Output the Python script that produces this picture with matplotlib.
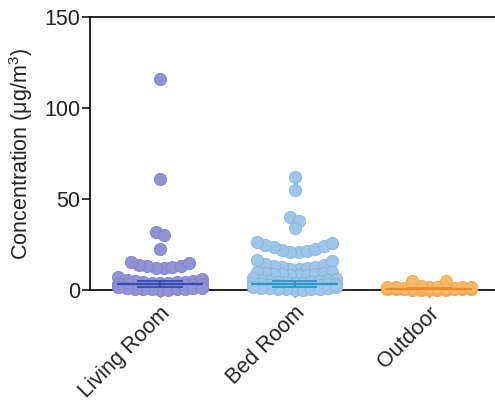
import numpy as np
import matplotlib
matplotlib.use("Agg")
import matplotlib.pyplot as plt

plt.rcParams['font.family'] = ['Liberation Sans', 'DejaVu Sans']
plt.rcParams['mathtext.fontset'] = 'custom'
plt.rcParams['mathtext.rm'] = 'Liberation Sans'
plt.rcParams['mathtext.default'] = 'regular'

# ---------------- data ----------------
categories = ["Living Room", "Bed Room", "Outdoor"]

living_room = [116, 61, 32, 30, 22.5,
               12.0, 12.0, 12.5, 13.0, 13.0, 14.0, 15.0, 15.2,
               3.6, 3.8, 4.0, 4.2, 4.4, 4.6, 4.8, 5.0, 5.3, 6.0, 7.0,
               1.6, 1.8, 2.0, 2.2, 2.4, 2.6, 2.8, 3.0, 3.2, 3.3, 3.5,
               0.1, 0.2, 0.3, 0.4, 0.5, 0.6, 0.8, 0.9, 1.1, 1.3, 1.5]

bed_room = [62, 55, 40, 38, 34,
            21.0, 21.0, 21.5, 22.0, 22.5, 23.5, 24.0, 24.5, 26.0, 26.4,
            11.5, 11.8, 12.0, 12.4, 12.8, 13.3, 13.8, 14.5, 16.0, 16.5,
            8.2, 8.4, 8.5, 8.7, 8.8, 9.0, 9.2, 9.4, 9.7, 10.0,
            3.8, 4.0, 4.2, 4.4, 4.6, 4.8, 5.0, 5.3, 5.6, 6.2, 6.8,
            1.8, 2.0, 2.2, 2.4, 2.6, 2.8, 3.0, 3.2, 3.3, 3.5, 3.6,
            0.1, 0.2, 0.3, 0.5, 0.6, 0.8, 0.9, 1.1, 1.3, 1.5, 1.6]

outdoor = [0.0, 0.1, 0.1, 0.2, 0.2, 0.3, 0.3, 0.4, 0.4, 0.5, 0.5,
           0.5, 0.6, 0.6, 0.7, 0.7, 0.8, 0.8, 0.9, 0.9, 1.0, 1.0,
           1.0, 1.1, 1.1, 1.2, 1.2, 1.3, 1.3, 1.4, 1.4, 1.5, 1.5,
           1.5, 1.7, 2.0, 4.8, 5.0]

medians = [3.5, 3.5, 0.6]
q1 = [1.5, 1.8, 0.3]
q3 = [5.0, 5.2, 1.0]

y_ticks = [0, 50, 100, 150]

# ---------------- style ----------------
point_colors = ["#8F92D4", "#9EC6E9", "#F9B868"]
edge_colors = ["#7E81C8", "#88B4DD", "#F2A650"]
line_colors = ["#3A4BB3", "#2A97C6", "#EE8A28"]
BIN_EDGES = [-1, 7.5, 11, 17, 27.5, 35, 45, 50, 57, 65, 80, 200]
SPACING = 0.062
CHUNK = 11


def swarm_offsets(values):
    vals = np.asarray(values, dtype=float)
    offs = np.zeros(len(vals))
    bins = np.digitize(vals, BIN_EDGES)
    for b in np.unique(bins):
        idx = np.where(bins == b)[0]
        idx = idx[np.argsort(vals[idx], kind="stable")]
        for start in range(0, len(idx), CHUNK):
            chunk = idx[start:start + CHUNK]
            n = len(chunk)
            for k, i in enumerate(chunk):
                if n % 2 == 1:
                    m = (k + 1) // 2
                    pos = 0 if k == 0 else (m if k % 2 == 1 else -m)
                else:
                    m = k // 2 + 0.5
                    pos = m if k % 2 == 0 else -m
                offs[i] = pos * SPACING
    return offs


fig = plt.figure(figsize=(4.95, 4.01), dpi=100)
ax = fig.add_axes([90 / 495, 1 - 290 / 401, 1 - 90 / 495, 273 / 401])

groups = [living_room, bed_room, outdoor]
for gi, vals in enumerate(groups):
    offs = swarm_offsets(vals)
    ax.scatter(gi + offs, vals, s=78, color=point_colors[gi],
               edgecolors=edge_colors[gi], linewidths=0.6,
               zorder=3, clip_on=False)
    # median line
    ax.hlines(medians[gi], gi - 0.32, gi + 0.32, color=line_colors[gi], lw=1.6,
              zorder=4, clip_on=False)
    # IQR caps and bar
    ax.hlines([q1[gi], q3[gi]], gi - 0.17, gi + 0.17, color=line_colors[gi], lw=1.3,
              zorder=4, clip_on=False)
    ax.vlines(gi, q1[gi], q3[gi], color=line_colors[gi], lw=1.3, zorder=4, clip_on=False)

ax.set_xlim(-0.52, 2.49)
ax.set_ylim(0, 150)
ax.set_yticks(y_ticks)
ax.set_xticks(range(len(categories)))
ax.set_xticklabels(categories, rotation=45, ha='right', va='top',
                   rotation_mode='anchor', fontsize=15.5, color='#222222')
ax.tick_params(axis='y', labelsize=15.5, length=6, width=1.1, pad=1,
               labelcolor='#222222')
ax.tick_params(axis='x', length=5, width=1.0, pad=4)
ax.spines['right'].set_visible(False)
for s in ['left', 'bottom', 'top']:
    ax.spines[s].set_linewidth(1.2)
ax.set_ylabel("Concentration (μg/m$^{3}$)", fontsize=15.5, color='#222222')
ax.yaxis.set_label_coords(-55 / 405, 0.5)

fig.savefig("out.png", dpi=100)
